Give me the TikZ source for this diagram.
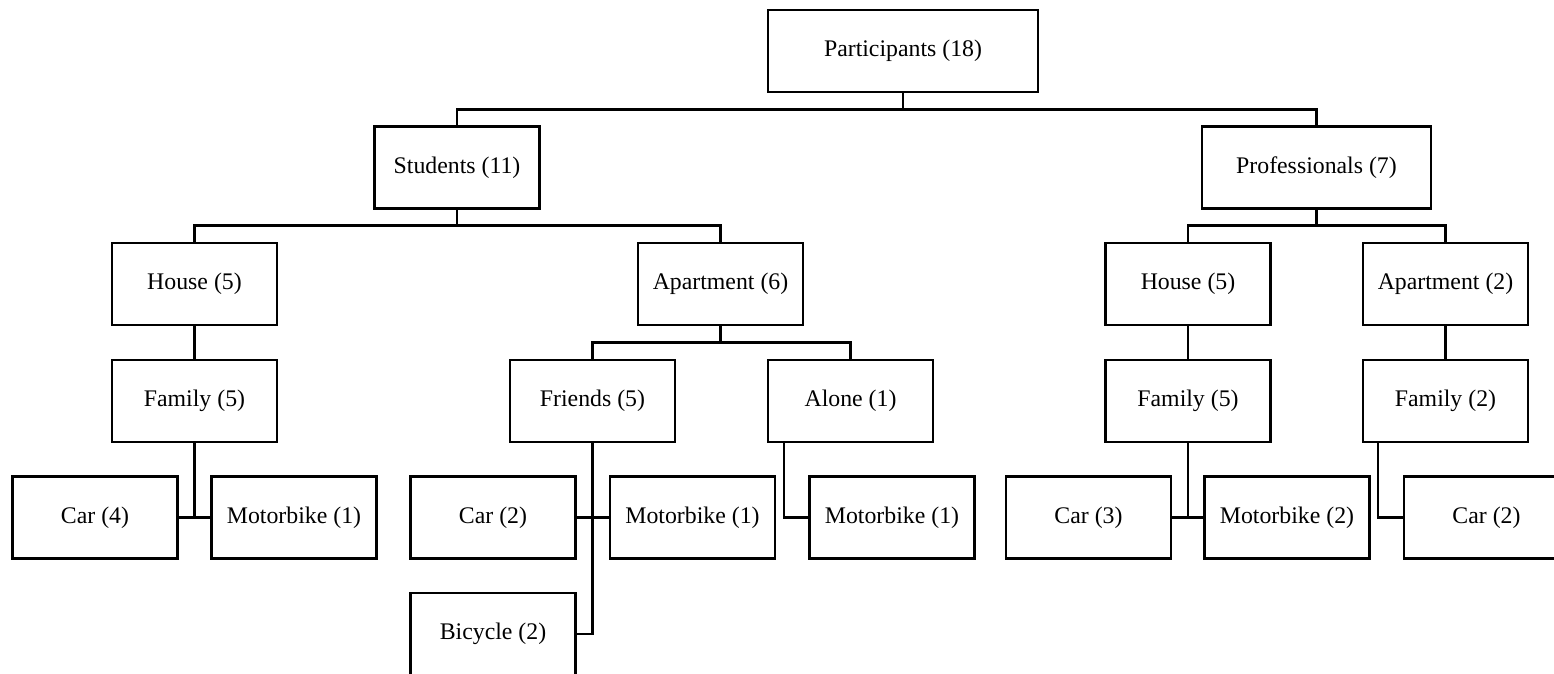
\documentclass[tikz,border=0pt]{standalone}
\usepackage{fontspec}
\setmainfont{Liberation Serif}
\usepackage{tikz}
\usetikzlibrary{positioning}

\begin{document}
\begin{tikzpicture}[x=0.5pt, y=-0.5pt,
    catbox/.style={draw, line width=1.2pt, minimum width=82.5pt, minimum height=41pt,
        inner sep=0pt, font=\fontsize{11.9pt}{14pt}\selectfont},
    link/.style={line width=1.15pt}]

\useasboundingbox (0,0) rectangle (1554,674);
\clip (0,0) rectangle (1554,674);

% Ebene 0 und 1
\node[catbox, minimum width=135pt] (part) at (903,51) {Participants (18)};
\node[catbox] (stud) at (457,167.5) {Students (11)};
\node[catbox, minimum width=114.5pt] (prof) at (1316.5,167.5) {Professionals (7)};

% Ebene 2
\node[catbox] (house1) at (194.5,284) {House (5)};
\node[catbox] (apt1) at (720.5,284) {Apartment (6)};
\node[catbox] (house2) at (1188,284) {House (5)};
\node[catbox] (apt2) at (1445.5,284) {Apartment (2)};

% Ebene 3
\node[catbox] (fam1) at (194.5,401) {Family (5)};
\node[catbox] (friends) at (592.5,401) {Friends (5)};
\node[catbox] (alone) at (850.5,401) {Alone (1)};
\node[catbox] (fam2) at (1188,401) {Family (5)};
\node[catbox] (fam3) at (1445.5,401) {Family (2)};

% Ebene 4 und 5
\node[catbox] (car1) at (95,517.5) {Car (4)};
\node[catbox] (moto1) at (294,517.5) {Motorbike (1)};
\node[catbox] (car2) at (493,517.5) {Car (2)};
\node[catbox] (moto2) at (692.5,517.5) {Motorbike (1)};
\node[catbox] (moto3) at (892,517.5) {Motorbike (1)};
\node[catbox] (car3) at (1088.5,517.5) {Car (3)};
\node[catbox] (moto4) at (1287,517.5) {Motorbike (2)};
\node[catbox] (car4) at (1486.5,517.5) {Car (2)};
\node[catbox] (bike) at (493,634) {Bicycle (2)};

% Verbindungen
\coordinate (b0) at (903,109.5);
\coordinate (b1) at (457,225.5);
\coordinate (b2) at (1316.5,225.5);
\coordinate (b3) at (720.5,342.5);

\draw[link] (part) -- (b0);
\draw[link] (stud.north) |- (b0) -| (prof.north);
\draw[link] (stud) -- (b1);
\draw[link] (house1.north) |- (b1) -| (apt1.north);
\draw[link] (prof) -- (b2);
\draw[link] (house2.north) |- (b2) -| (apt2.north);
\draw[link] (apt1) -- (b3);
\draw[link] (friends.north) |- (b3) -| (alone.north);

\draw[link] (house1) -- (fam1);
\draw[link] (house2) -- (fam2);
\draw[link] (apt2) -- (fam3);

\draw[link] (fam1) -- (fam1 |- car1);
\draw[link] (car1) -- (moto1);
\draw[link] (friends.south) |- (bike.east);
\draw[link] (car2) -- (moto2);
\draw[link] ([xshift=8.5pt]alone.south west) |- (moto3.west);
\draw[link] (fam2) -- (fam2 |- car3);
\draw[link] (car3) -- (moto4);
\draw[link] ([xshift=8pt]fam3.south west) |- (car4.west);

\end{tikzpicture}
\end{document}
